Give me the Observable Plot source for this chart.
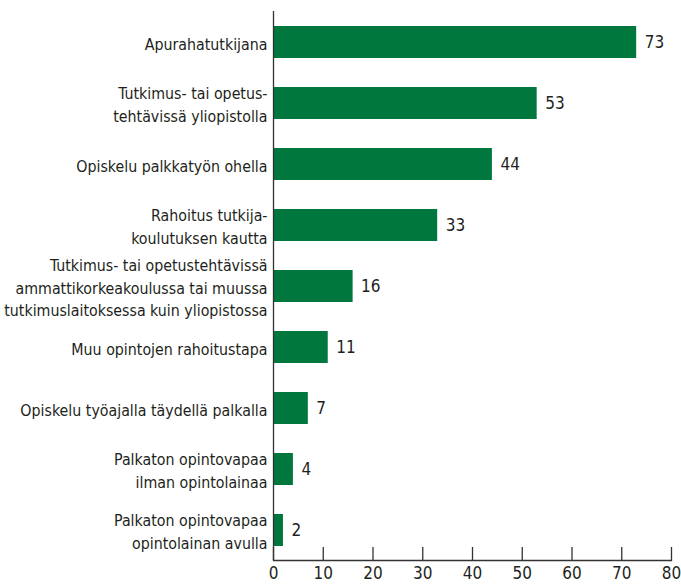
<!DOCTYPE html>
<html>
<head>
<meta charset="utf-8">
<script src="https://cdn.jsdelivr.net/npm/d3@7"></script>
<script src="https://cdn.jsdelivr.net/npm/@observablehq/plot@0.6"></script>
<style>
  html, body { margin: 0; padding: 0; background: #fff; }
  #chart svg { display: block; }
</style>
</head>
<body>
<div id="chart"></div>
<script>
const categories = [
  "Apurahatutkijana",
  "Tutkimus- tai opetus-\ntehtävissä yliopistolla",
  "Opiskelu palkkatyön ohella",
  "Rahoitus tutkija-\nkoulutuksen kautta",
  "Tutkimus- tai opetustehtävissä\nammattikorkeakoulussa tai muussa\ntutkimuslaitoksessa kuin yliopistossa",
  "Muu opintojen rahoitustapa",
  "Opiskelu työajalla täydellä palkalla",
  "Palkaton opintovapaa\nilman opintolainaa",
  "Palkaton opintovapaa\nopintolainan avulla"
];
const values = [73, 53, 44, 33, 16, 11, 7, 4, 2];
const xTicks = [0, 10, 20, 30, 40, 50, 60, 70, 80];

const data = categories.map((c, i) => ({category: c, value: values[i]}));
const green = "#00773c";
const ink = "#231f20";
const font = "'DejaVu Sans Condensed', 'Liberation Sans Narrow', sans-serif";
const fs = 15.8;
const fn = 17;

const chart = Plot.plot({
  width: 681,
  height: 587,
  marginLeft: 273,
  marginRight: 10,
  marginTop: 11,
  marginBottom: 27,
  style: {fontFamily: font, fontSize: fs + "px", color: ink, background: "#fff"},
  x: {domain: [0, 80], ticks: xTicks, label: null},
  y: {domain: categories, paddingInner: 0.476, paddingOuter: 0.23, label: null},
  marks: [
    Plot.barX(data, {x: "value", y: "category", fill: green}),
    Plot.text(data, {x: "value", y: "category", text: d => String(d.value), textAnchor: "start", dx: 8, fill: ink, fontSize: fn}),
    Plot.text(data, {y: "category", text: "category", frameAnchor: "left", textAnchor: "end", dx: -6, fill: ink, fontSize: fs, lineHeight: 1.42}),
    Plot.tickX(xTicks, {x: d => d, stroke: "#333", strokeWidth: 1.3, insetTop: 536}),
    Plot.axisX({ticks: xTicks, tickSize: 0, tickPadding: 6, fontSize: fn, color: ink, label: null, tickFormat: d => String(d)}),
    Plot.axisY({ticks: [], label: null, tickSize: 0}),
    Plot.ruleX([0], {stroke: "#333", strokeWidth: 1.3}),
    Plot.frame({anchor: "bottom", stroke: "#333", strokeWidth: 1.3})
  ]
});
document.getElementById("chart").appendChild(chart);
</script>
</body>
</html>
